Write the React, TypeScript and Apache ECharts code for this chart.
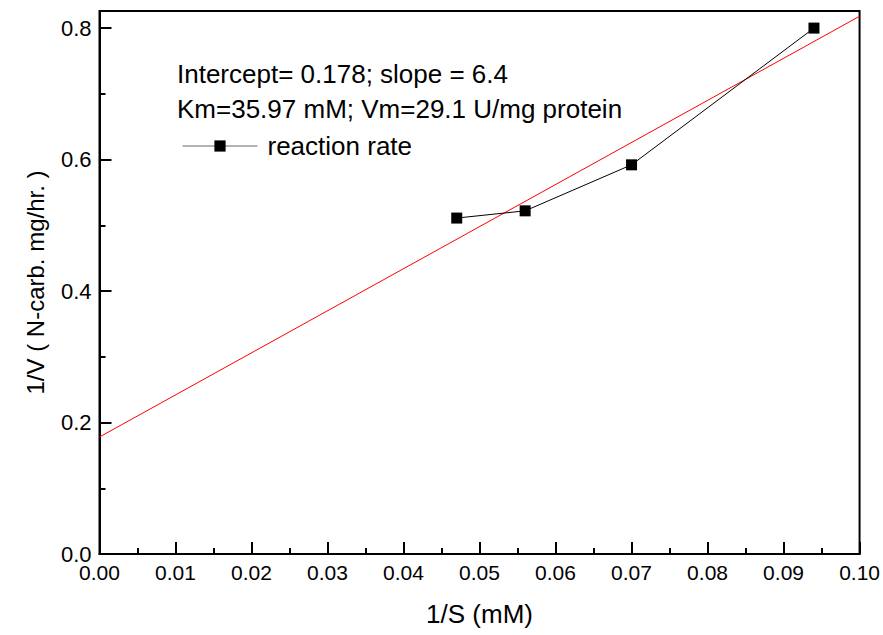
import React, { useEffect, useRef } from "react";
import * as echarts from "echarts";

const xValues = [0.047, 0.056, 0.07, 0.094];
const yValues = [0.511, 0.522, 0.592, 0.8];
const fitX = [0, 0.1];
const fitY = [0.178, 0.818];
const xTicks = { min: 0, max: 0.1, interval: 0.01 };
const yTicks = { min: 0, max: 0.826, interval: 0.2 };
const annotationLines = [
  "Intercept= 0.178; slope = 6.4",
  "Km=35.97 mM; Vm=29.1 U/mg protein",
];
const seriesName = "reaction rate";

const FONT = "Liberation Sans, Arial, sans-serif";

export default function App() {
  const ref = useRef<HTMLDivElement>(null);
  useEffect(() => {
    if (!ref.current) return;
    const chart = echarts.init(ref.current, undefined, { renderer: "svg" });
    const axisLine = { show: true, lineStyle: { color: "#000", width: 2 } };
    chart.setOption({
      animation: false,
      backgroundColor: "#fff",
      textStyle: { fontFamily: FONT },
      grid: {
        left: 99.5,
        top: 11,
        right: 23,
        bottom: 81,
        show: true,
        borderColor: "#000",
        borderWidth: 2,
        backgroundColor: "transparent",
      },
      legend: {
        show: true,
        left: 177,
        top: 128,
        itemWidth: 75,
        itemHeight: 14,
        lineStyle: { color: "#666", width: 1 },
        itemStyle: { color: "#000" },
        textStyle: { fontSize: 26, color: "#000", fontFamily: FONT, padding: [0, 0, 0, 5] },
        data: [{ name: seriesName }],
      },
      graphic: annotationLines.map((t, i) => ({
        type: "text",
        left: 177,
        top: 60.5 + i * 35,
        style: { text: t, fontSize: 26, fill: "#000", fontFamily: FONT },
      })),
      xAxis: {
        type: "value",
        min: xTicks.min,
        max: xTicks.max,
        interval: xTicks.interval,
        name: "1/S (mM)",
        nameLocation: "middle",
        nameGap: 47,
        nameTextStyle: { fontSize: 26, color: "#000", fontFamily: FONT },
        axisLine,
        axisTick: { show: true, inside: true, length: 12, lineStyle: { color: "#000", width: 2 } },
        minorTick: { show: true, splitNumber: 2, length: 6, lineStyle: { color: "#000", width: 2 } },
        splitLine: { show: false },
        minorSplitLine: { show: false },
        axisLabel: {
          fontSize: 21,
          color: "#000",
          margin: 8,
          fontFamily: FONT,
          formatter: (v: number) => v.toFixed(2),
        },
      },
      yAxis: [
        {
          type: "value",
          min: yTicks.min,
          max: yTicks.max,
          interval: yTicks.interval,
          name: "1/V ( N-carb. mg/hr. )",
          nameLocation: "middle",
          nameGap: 52,
          nameTextStyle: { fontSize: 24, color: "#000", fontFamily: FONT },
          axisLine,
          axisTick: { show: true, inside: true, length: 12, lineStyle: { color: "#000", width: 2 } },
          splitLine: { show: false },
          axisLabel: {
            fontSize: 22,
            color: "#000",
            margin: 8,
            fontFamily: FONT,
            showMaxLabel: false,
            formatter: (v: number) => v.toFixed(1),
          },
        },
        {
          type: "value",
          position: "left",
          min: yTicks.min,
          max: yTicks.max,
          interval: yTicks.interval / 2,
          axisLine: { show: false },
          axisTick: { show: true, inside: true, length: 6, lineStyle: { color: "#000", width: 2 } },
          splitLine: { show: false },
          axisLabel: { show: false },
        },
      ],
      series: [
        {
          name: "fit",
          type: "line",
          data: fitX.map((x, i) => [x, fitY[i]]),
          showSymbol: false,
          symbol: "none",
          lineStyle: { color: "#ff0000", width: 1 },
          silent: true,
          z: 2,
        },
        {
          name: seriesName,
          type: "line",
          data: xValues.map((x, i) => [x, yValues[i]]),
          symbol: "rect",
          symbolSize: 11,
          itemStyle: { color: "#000" },
          lineStyle: { color: "#000", width: 1 },
          z: 3,
        },
      ],
    });
    return () => chart.dispose();
  }, []);
  return (
    <div
      ref={ref}
      style={{ position: "fixed", left: 0, top: 0, width: 883, height: 635 }}
    />
  );
}
